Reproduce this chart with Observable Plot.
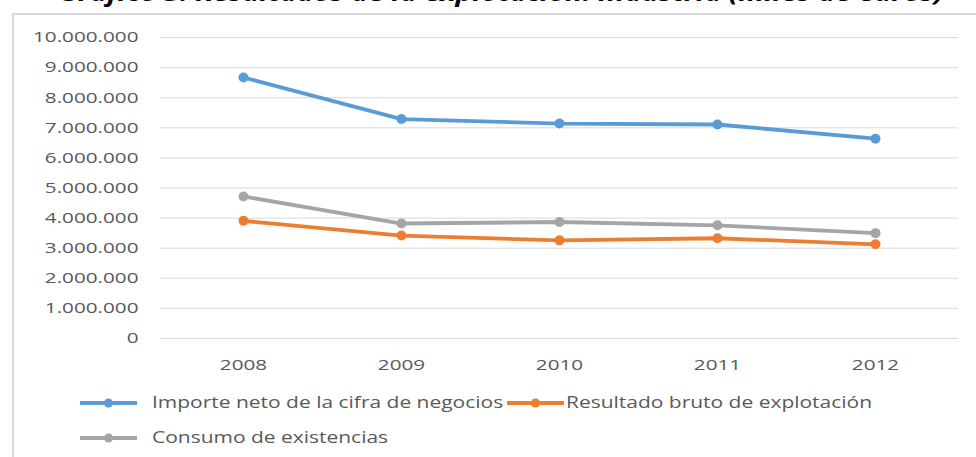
<!DOCTYPE html>
<html><head><meta charset="utf-8">
<script src="https://cdn.jsdelivr.net/npm/d3@7"></script>
<script src="https://cdn.jsdelivr.net/npm/@observablehq/plot@0.6"></script>
<style>
html,body{margin:0;padding:0;width:976px;height:457px;overflow:hidden;background:#fff;font-family:"Open Sans",sans-serif;position:relative}
#title{position:absolute;left:13px;width:976px;top:-20px;text-align:center;font:italic bold 24px "Open Sans",sans-serif;line-height:24px;white-space:nowrap;color:#000}
#title span{display:inline-block;transform:scaleX(1.19);transform-origin:center}
#frame{position:absolute;left:12px;top:13px;width:1000px;height:500px;border-left:2px solid #d9d9d9;border-top:2px solid #d9d9d9;box-sizing:border-box}
#chart{position:absolute;left:0;top:0}
.leg{position:absolute;height:0;white-space:nowrap;color:#595959;font-size:16px}
.leg svg{position:absolute;top:-7px;left:0}
.leg span{position:absolute;top:-12px;line-height:22px;transform-origin:left center;transform:scaleX(1.31)}
</style></head><body>
<div id="title"><span>Gráfico 3. Resultados de la explotación. Industria (miles de euros)</span></div>
<div id="frame"></div>
<div id="chart"></div>
<div id="legend"></div>
<script>
const years = ["2008", "2009", "2010", "2011", "2012"];
const seriesNames = ["Importe neto de la cifra de negocios", "Resultado bruto de explotación", "Consumo de existencias"];
const importe = [8670000, 7290000, 7140000, 7110000, 6640000];
const resultado = [3910000, 3420000, 3260000, 3330000, 3130000];
const consumo = [4720000, 3820000, 3870000, 3760000, 3500000];
const colors = ["#5B9BD5", "#ED7D31", "#A5A5A5"];
const yTicks = [0, 1000000, 2000000, 3000000, 4000000, 5000000, 6000000, 7000000, 8000000, 9000000, 10000000];

const seriesValues = [importe, resultado, consumo];
const rows = seriesNames.flatMap((s, i) => years.map((y, j) => ({series: s, year: y, value: seriesValues[i][j]})));
const fmt = d => d3.format(",")(d).replace(/,/g, ".");

const plot = Plot.plot({
  width: 976, height: 380,
  marginLeft: 162, marginRight: 21, marginTop: 37, marginBottom: 42,
  style: {fontFamily: "'Open Sans', sans-serif", fontSize: "15px", color: "#595959", background: "transparent", overflow: "visible"},
  x: {type: "point", domain: years, padding: 0.5, label: null, tickSize: 0, tickPadding: 21},
  y: {domain: [0, 10000000], ticks: yTicks, tickFormat: fmt, label: null, tickSize: 0, tickPadding: 24},
  color: {domain: seriesNames, range: colors},
  marks: [
    Plot.ruleY(yTicks, {stroke: "#d9d9d9", strokeWidth: 1, insetLeft: -2, insetRight: -3}),
    Plot.line(rows, {x: "year", y: "value", z: "series", stroke: "series", strokeWidth: 3.8, strokeLinejoin: "round", strokeLinecap: "round"}),
    Plot.dot(rows, {x: "year", y: "value", fill: "series", r: 5})
  ]
});
plot.querySelectorAll("text").forEach(t => {
  const tr = t.getAttribute("transform") || "";
  t.setAttribute("transform", (tr + " scale(1.38,1)").trim());
});
document.getElementById("chart").appendChild(plot);

// legend
const legPos = [{left: 80, top: 403, gap: 72}, {left: 507, top: 403, gap: 59}, {left: 80, top: 438, gap: 72}];
const leg = document.getElementById("legend");
seriesNames.forEach((name, i) => {
  const p = legPos[i];
  const d = document.createElement("div");
  d.className = "leg";
  d.style.left = p.left + "px";
  d.style.top = p.top + "px";
  d.innerHTML = `<svg width="57" height="14"><line x1="0" x2="57" y1="7" y2="7" stroke="${colors[i]}" stroke-width="3.8"/><circle cx="28.5" cy="7" r="4.5" fill="${colors[i]}"/></svg><span style="left:${p.gap}px">${name}</span>`;
  leg.appendChild(d);
});
</script>
</body></html>
